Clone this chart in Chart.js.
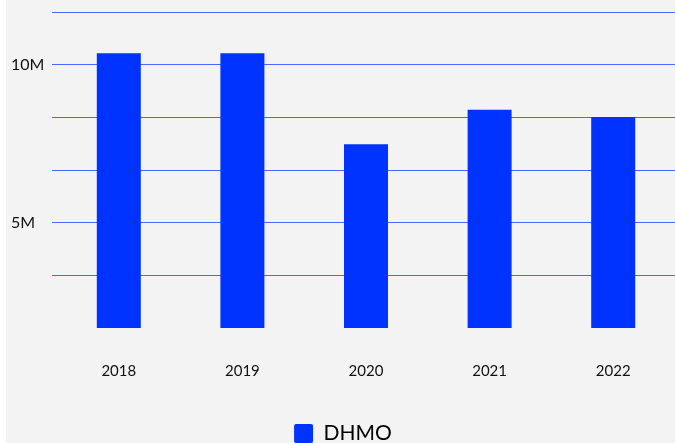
<!DOCTYPE html>
<html>
<head>
<meta charset="utf-8">
<script src="https://cdn.jsdelivr.net/npm/chart.js@4/dist/chart.umd.min.js"></script>
<style>
  html, body { margin: 0; padding: 0; background: #ffffff; }
  #wrap { position: absolute; left: 6px; top: 0; width: 669px; height: 443px; background: #f3f3f3; }
  canvas { display: block; }
</style>
</head>
<body>
<div id="wrap"><canvas id="c" width="669" height="443"></canvas></div>
<script>
const categories = ['2018', '2019', '2020', '2021', '2022'];
const seriesName = 'DHMO';
const dhmoValues = [10360000, 10360000, 7480000, 8570000, 8340000];
const yMin = 1666667;
const yMax = 11666667;
const yTickValues = [3333333, 5000000, 6666667, 8333333, 10000000, 11666667];
const yTickLabels = ['', '5M', '', '', '10M', ''];

const blue = '#0033ff';

new Chart(document.getElementById('c'), {
  type: 'bar',
  data: {
    labels: categories,
    datasets: [{
      label: seriesName,
      data: dhmoValues,
      backgroundColor: blue,
      borderWidth: 0,
      barPercentage: 0.356,
      categoryPercentage: 1.0
    }]
  },
  options: {
    responsive: false,
    animation: false,
    layout: { padding: { left: 5, right: 0, top: 12, bottom: -11 } },
    plugins: {
      tooltip: { enabled: false },
      legend: {
        position: 'bottom',
        labels: {
          boxWidth: 19,
          boxHeight: 19,
          padding: 0,
          color: '#111',
          font: { family: 'Lato', size: 21 },
          generateLabels(chart) {
            return [{
              text: seriesName,
              fillStyle: blue,
              strokeStyle: blue,
              lineWidth: 0,
              borderRadius: 2,
              datasetIndex: 0
            }];
          },
          useBorderRadius: true,
          borderRadius: 2
        }
      }
    },
    scales: {
      x: {
        grid: { display: false, drawTicks: false },
        border: { display: false },
        ticks: { color: '#111', font: { family: 'Lato', size: 15 }, padding: 34 },
        afterFit(scale) { scale.height += 9; }
      },
      y: {
        min: yMin,
        max: yMax,
        afterBuildTicks(scale) {
          scale.ticks = yTickValues.map(v => ({ value: v }));
        },
        afterFit(scale) { scale.width = 46; scale.paddingTop = 0; scale.paddingBottom = 0; },
        grid: { color: '#4a6aff', lineWidth: 1, tickLength: 5, drawTicks: true },
        border: { display: false },
        ticks: {
          color: '#111',
          font: { family: 'Lato', size: 16 },
          crossAlign: 'far',
          padding: 11,
          callback(value, index) { return yTickLabels[index]; }
        }
      }
    }
  }
});
</script>
</body>
</html>
